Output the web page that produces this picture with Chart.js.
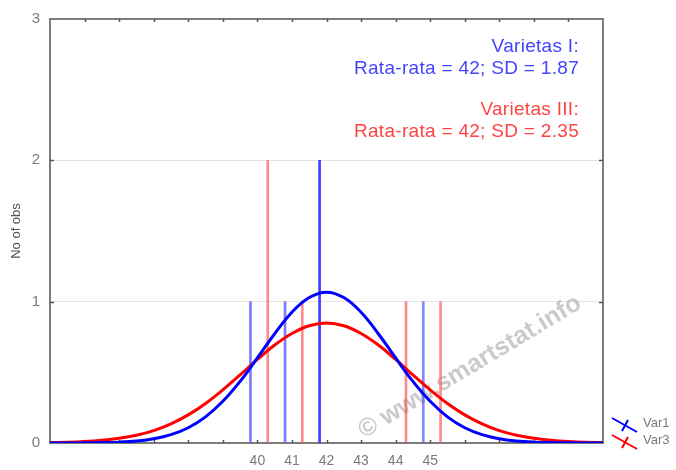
<!DOCTYPE html>
<html>
<head>
<meta charset="utf-8">
<script src="https://cdn.jsdelivr.net/npm/chart.js@4"></script>
<style>
html, body { margin: 0; padding: 0; background: #fff; }
#wrap { width: 676px; height: 470px; }
</style>
</head>
<body>
<div id="wrap"><canvas id="chart" width="676" height="470"></canvas></div>
<script>
const var1Pos = [39.8, 40.8, 41.8, 44.8];
const var1Obs = [1, 1, 2, 1];
const var3Pos = [40.3, 41.3, 44.3, 45.3];
const var3Obs = [2, 1, 1, 1];

// fitted normal curves, read every half unit from 34 to 50
const curveX = [34, 34.5, 35, 35.5, 36, 36.5, 37, 37.5, 38, 38.5, 39, 39.5, 40, 40.5, 41, 41.5,
                42, 42.5, 43, 43.5, 44, 44.5, 45, 45.5, 46, 46.5, 47, 47.5, 48, 48.5, 49, 49.5, 50];
const var1Curve = [0.000, 0.000, 0.001, 0.003, 0.006, 0.014, 0.030, 0.059, 0.108, 0.185, 0.295, 0.436, 0.602, 0.773, 0.925, 1.029,
                   1.067, 1.029, 0.925, 0.773, 0.602, 0.436, 0.295, 0.185, 0.108, 0.059, 0.030, 0.014, 0.006, 0.003, 0.001, 0.000, 0.000];
const var3Curve = [0.003, 0.005, 0.010, 0.019, 0.033, 0.055, 0.088, 0.136, 0.199, 0.280, 0.376, 0.482, 0.591, 0.693, 0.775, 0.830,
                   0.849, 0.830, 0.775, 0.693, 0.591, 0.482, 0.376, 0.280, 0.199, 0.136, 0.088, 0.055, 0.033, 0.019, 0.010, 0.005, 0.003];

const xTickLabels = [40, 41, 42, 43, 44, 45];
const seriesNames = ['Var1', 'Var3'];
const notes = [
    ['Varietas I:', 'Rata-rata = 42; SD = 1.87'],
    ['Varietas III:', 'Rata-rata = 42; SD = 2.35']
];

const FONT = "'Liberation Sans', Arial, sans-serif";
const BLUE = '#0000ff';
const RED = '#ff0000';

function pts(xs, ys) {
    return xs.map((x, i) => ({ x: x, y: ys[i] }));
}

// frame, inward ticks, watermark, notes and legend
const framePlugin = {
    id: 'frame',
    beforeDatasetsDraw(chart) {
        const ctx = chart.ctx;
        const a = chart.chartArea;
        const xs = chart.scales.x, ys = chart.scales.y;
        ctx.save();
        // watermark
        ctx.translate(470, 367);
        ctx.rotate(-31 * Math.PI / 180);
        ctx.font = 'bold 25px ' + FONT;
        ctx.fillStyle = 'rgba(150,150,150,0.5)';
        ctx.textAlign = 'center';
        ctx.textBaseline = 'middle';
        ctx.fillText('\u00a9 www.smartstat.info', 0, 0);
        ctx.restore();

        ctx.save();
        ctx.strokeStyle = '#7c7c7c';
        ctx.lineWidth = 2;
        ctx.strokeRect(a.left, a.top, a.right - a.left, a.bottom - a.top);
        ctx.lineWidth = 1.5;
        ctx.strokeStyle = '#555';
        ctx.beginPath();
        for (let v = 35; v <= 49; v++) {
            const px = Math.round(xs.getPixelForValue(v)) + 0.5;
            ctx.moveTo(px, a.bottom); ctx.lineTo(px, a.bottom - 3);
            ctx.moveTo(px, a.top); ctx.lineTo(px, a.top + 3);
        }
        for (let v = 1; v <= 2; v++) {
            const py = Math.round(ys.getPixelForValue(v)) + 0.5;
            ctx.moveTo(a.left, py); ctx.lineTo(a.left + 4, py);
            ctx.moveTo(a.right, py); ctx.lineTo(a.right - 4, py);
        }
        ctx.stroke();
        ctx.restore();
    },
    afterDraw(chart) {
        const ctx = chart.ctx;
        ctx.save();
        // notes at top right
        ctx.font = '19px ' + FONT;
        ctx.textAlign = 'right';
        ctx.textBaseline = 'middle';
        if ('letterSpacing' in ctx) ctx.letterSpacing = '0.3px';
        const noteColors = ['#4444ff', '#ff4444'];
        const noteY = [[47, 69], [110, 132]];
        notes.forEach((lines, i) => {
            ctx.fillStyle = noteColors[i];
            lines.forEach((t, j) => ctx.fillText(t, 579, noteY[i][j]));
        });
        if ('letterSpacing' in ctx) ctx.letterSpacing = '0px';

        // legend at lower right
        const lcol = [BLUE, RED];
        ctx.font = '13px ' + FONT;
        ctx.textAlign = 'left';
        seriesNames.forEach((name, i) => {
            const y0 = 418 + i * 17;
            ctx.strokeStyle = lcol[i];
            ctx.lineWidth = 2;
            ctx.beginPath();
            ctx.moveTo(612, y0); ctx.lineTo(637, y0 + 14);
            ctx.moveTo(628, y0 + 2); ctx.lineTo(622, y0 + 13);
            ctx.stroke();
            ctx.fillStyle = '#7a7a7a';
            ctx.fillText(name, 643, y0 + 5);
        });
        ctx.restore();
    }
};

const ctx = document.getElementById('chart').getContext('2d');
new Chart(ctx, {
    type: 'line',
    data: {
        datasets: [
            {
                type: 'line',
                label: seriesNames[0],
                data: pts(curveX, var1Curve),
                borderColor: BLUE,
                borderWidth: 3,
                pointRadius: 0,
                tension: 0.4,
                fill: false,
                order: 0
            },
            {
                type: 'line',
                label: seriesNames[1],
                data: pts(curveX, var3Curve),
                borderColor: RED,
                borderWidth: 3,
                pointRadius: 0,
                tension: 0.4,
                fill: false,
                order: 1
            },
            {
                type: 'bar',
                label: seriesNames[0] + ' obs',
                data: pts(var1Pos, var1Obs),
                backgroundColor: ['rgba(80,80,255,0.75)', 'rgba(80,80,255,0.75)', 'rgba(40,40,255,0.9)', 'rgba(80,80,255,0.7)'],
                barThickness: 2,
                grouped: false,
                order: 3
            },
            {
                type: 'bar',
                label: seriesNames[1] + ' obs',
                data: pts(var3Pos, var3Obs),
                backgroundColor: ['rgba(255,100,100,0.75)', 'rgba(255,100,100,0.75)', 'rgba(255,60,60,0.6)', 'rgba(255,100,100,0.75)'],
                barThickness: 2,
                grouped: false,
                order: 2
            }
        ]
    },
    options: {
        responsive: false,
        animation: false,
        layout: { padding: { top: 16, right: 73, bottom: 0, left: 0 } },
        plugins: {
            legend: { display: false },
            tooltip: { enabled: false }
        },
        scales: {
            x: {
                type: 'linear',
                min: 34,
                max: 50,
                offset: false,
                grid: { display: false, drawTicks: false, offset: false },
                border: { display: false },
                ticks: {
                    stepSize: 1,
                    autoSkip: false,
                    maxRotation: 0,
                    padding: 10,
                    color: '#7a7a7a',
                    font: { family: FONT, size: 14 },
                    callback: v => xTickLabels.includes(v) ? String(v) : ''
                },
                afterFit: s => { s.height = 27; }
            },
            y: {
                min: 0,
                max: 3,
                grid: {
                    drawTicks: false,
                    color: c => (c.tick && (c.tick.value === 1 || c.tick.value === 2)) ? '#e4e4e4' : 'rgba(0,0,0,0)'
                },
                border: { display: false },
                ticks: {
                    stepSize: 1,
                    padding: 10,
                    color: '#7a7a7a',
                    font: { family: FONT, size: 15 }
                },
                title: {
                    display: true,
                    text: 'No of obs',
                    color: '#555',
                    font: { family: FONT, size: 13 },
                    padding: { top: 9, bottom: 0 }
                },
                afterFit: s => { s.width = 50; }
            }
        }
    },
    plugins: [framePlugin]
});
</script>
</body>
</html>
